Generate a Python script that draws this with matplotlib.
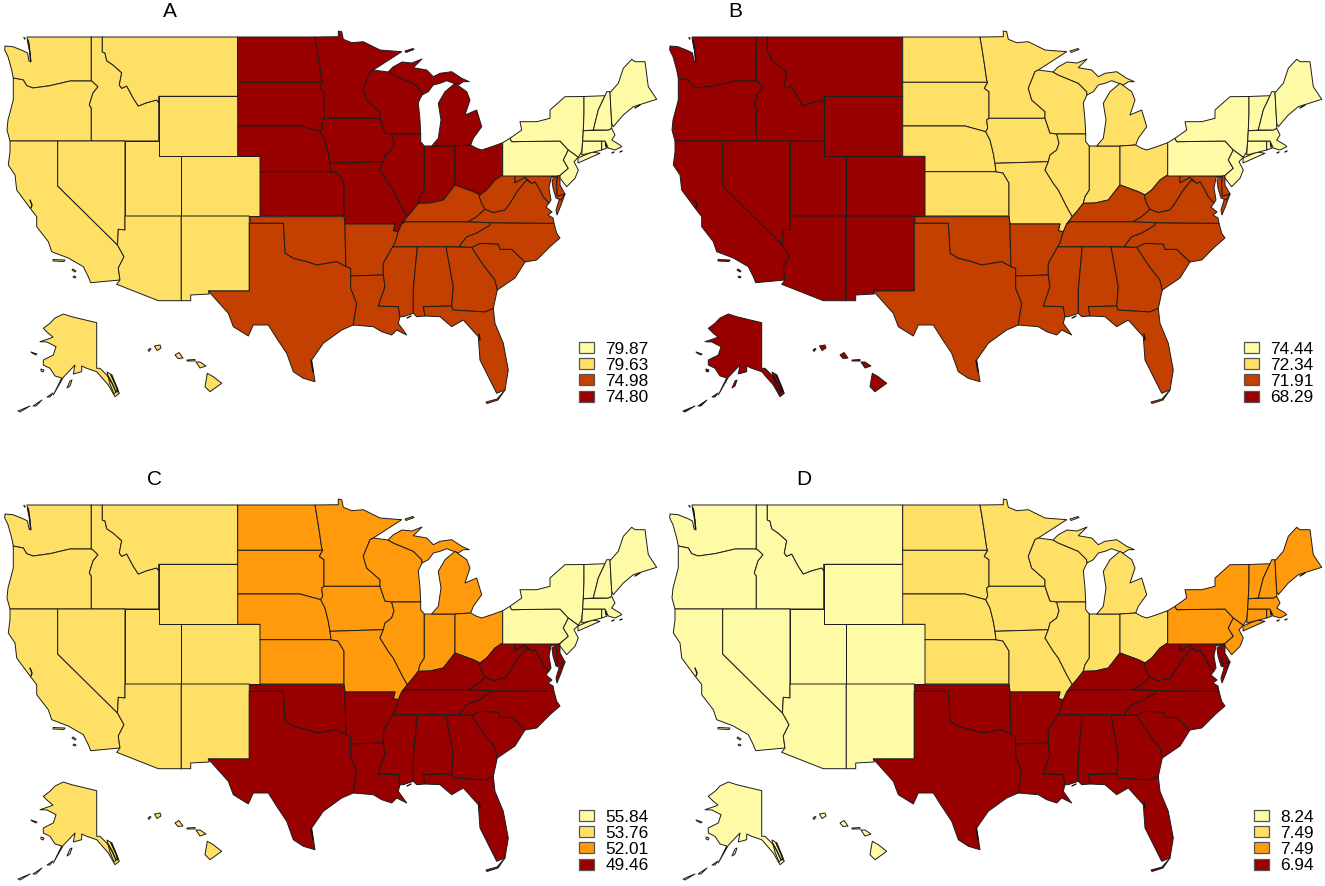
import matplotlib
matplotlib.use("Agg")
import matplotlib.pyplot as plt
from matplotlib.patches import Polygon, Patch

plt.rcParams['font.family'] = ['Liberation Sans', 'DejaVu Sans']

# ---- data: values and palettes ----
PANELS = ["A", "B", "C", "D"]
REGIONS = ["Northeast", "Midwest", "South", "West"]
A_VALUES = {"Northeast": 79.87, "West": 79.63, "South": 74.98, "Midwest": 74.80}
B_VALUES = {"Northeast": 74.44, "Midwest": 72.34, "South": 71.91, "West": 68.29}
C_VALUES = {"Northeast": 55.84, "West": 53.76, "Midwest": 52.01, "South": 49.46}
D_VALUES = {"West": 8.24, "Midwest": 7.49, "Northeast": 7.49, "South": 6.94}
VALUES = [A_VALUES, B_VALUES, C_VALUES, D_VALUES]
LIGHT, YELLOW, RUST, ORANGE, DARK = "#FFFAA6", "#FFE066", "#C44000", "#FF9A0C", "#990000"
PALETTES = [[LIGHT, YELLOW, RUST, DARK], [LIGHT, YELLOW, RUST, DARK],
            [LIGHT, YELLOW, ORANGE, DARK], [LIGHT, YELLOW, ORANGE, DARK]]

WEST = ["WA", "OR", "CA", "ID", "MT", "WY", "NV", "UT", "CO", "AZ", "NM", "AK", "HI"]
MIDWEST = ["ND", "SD", "NE", "KS", "MN", "IA", "MO", "WI", "IL", "IN", "MI", "OH"]
SOUTH = ["OK", "TX", "AR", "LA", "MS", "AL", "GA", "FL", "SC", "NC", "TN", "KY", "WV", "VA", "MD", "DE"]
NORTHEAST = ["PA", "NY", "NJ", "CT", "RI", "MA", "VT", "NH", "ME"]
MEMBERS = {"West": WEST, "Midwest": MIDWEST, "South": SOUTH, "Northeast": NORTHEAST}

# ---- state outlines (map units) ----
SHAPES = {
 "WA": [[(27,37),(91.3,37),(91.3,81),(70,81),(50,85.7),(33,88),(26.7,85.7),(23.3,80),(13.3,78),(11.7,70),(8,56.7),(4.7,50),(5,46),(13,46.7),(23,50.7),(27.5,53),(29,61),(31,62),(30,52),(28,44)]],
 "OR": [[(13.3,78),(23.3,80),(26.7,85.7),(33,88),(50,85.7),(70,81),(91.3,81),(92.7,81.7),(98,86.7),(93,93),(89.3,105),(91.3,108),(91.3,141),(10,141),(7,130),(8,120),(13.3,100)]],
 "ID": [[(91.3,37),(102.3,37),(102.3,52),(105,53),(106.7,60.7),(113,65),(121.7,72.7),(119.3,85),(121.7,88.3),(126.7,86),(133.3,98.3),(138.3,106),(146.7,102.7),(156.7,100),(158.7,102.7),(158.7,141),(91.3,141),(91.3,108),(89.3,105),(93,93),(98,86.7),(92.7,81.7),(91.3,81)]],
 "MT": [[(102.3,37),(237.7,37),(237.7,96.3),(158.7,96.3),(158.7,102.7),(156.7,100),(146.7,102.7),(138.3,106),(133.3,98.3),(126.7,86),(121.7,88.3),(119.3,85),(121.7,72.7),(113,65),(106.7,60.7),(105,53),(102.3,52)]],
 "WY": [[(158.7,96.3),(237.7,96.3),(237.7,156.3),(158.7,156.3)]],
 "UT": [[(125,141),(158.7,141),(158.7,156.3),(181.3,156.3),(181.3,216),(125,216)]],
 "CO": [[(181.3,156.3),(260,156.3),(260,216),(181.3,216)]],
 "NV": [[(57.7,141),(125,141),(125,230),(118.3,229.3),(117.5,245),(57.7,186)]],
 "CA": [[(10,141),(57.7,141),(57.7,186),(117.5,245),(124,256.7),(118.3,268),(120,280),(90.7,282.7),(88.3,276.7),(83.3,266.7),(68.3,258),(51.7,251.7),(48.3,241.7),(36.7,226.7),(36.7,216.7),(30,208),(16.7,190),(15,175),(8.3,165),(10,151.7)],
        [(53,259.5),(65,260),(64,261.5),(53,261)], [(73,269),(76,271),(75,272),(72,270)], [(74,276),(76,277),(75,278),(73,277)]],
 "AZ": [[(125,216),(181.3,216),(181.3,300.7),(158.3,300.7),(116.7,284.3),(120,280),(118.3,268),(124,256.7),(117.5,245),(118.3,229.3),(125,230)]],
 "NM": [[(181.3,216),(249.3,216),(249.3,291),(208.3,291),(209.3,294),(190.7,295),(190.7,300.7),(181.3,300.7)]],
 "AK": [[(63.3,314),(71.7,316.7),(96.7,322.7),(96.7,368.3),(100,368.3),(106.7,375),(115,383.3),(119.3,393.3),(115,396.7),(108.3,385),(96.7,371.7),(86.7,368.3),(81.7,366),(81.7,371.7),(73.3,374),(75,365),(63.3,377.3),(53.3,395),(61.7,378),(55,376),(50,368.3),(43.3,365),(43.3,360),(53.3,355),(56,346.7),(47,342),(40,341.7),(50,338.3),(53,337),(48,333),(43.3,328.3),(50,323.3),(55,318)],
        [(53,393),(47,397),(50,397)], [(42,400),(33,406),(36,406)], [(30,406),(18,411),(20,412)], [(31,352),(37,354),(36,355),(32,353)], [(41,369),(44,370),(43,372),(41,371)],
        [(72,380),(70,386),(67,388),(70,381)], [(107,372),(112,375),(118,390),(114,394),(110,384)]],
 "HI": [[(154.5,346),(160,345),(161,348),(157,350.5)], [(175,355),(179,352.5),(183,358),(178,358.5)], [(196,362),(200,362),(206,366),(200,368)], [(187,360),(195,359.5),(195,361),(187,361)],
        [(207.3,373.3),(213.3,376.7),(221.7,383.3),(210,391.7),(205,386.7)], [(148,350),(150,348.5),(151,349),(149,351.5)]],
 "ND": [[(237.7,37),(315,37),(316.7,46.7),(319.3,63.3),(321.7,80),(322.7,82.3),(237.7,82.3)]],
 "SD": [[(237.7,82.3),(322.7,82.3),(319.3,88.3),(324,91.7),(324,118.3),(321.7,120),(322.7,128.3),(320.7,131.7),(308.3,128.3),(300,126),(237.7,126)]],
 "NE": [[(237.7,126),(300,126),(308.3,128.3),(320.7,131.7),(325,140),(328.3,153.3),(330,163.3),(331,171.7),(260,171.7),(260,156.3),(237.7,156.3)]],
 "KS": [[(260,171.7),(331,171.7),(338,173),(344,183),(344,216),(260,216)]],
 "MN": [[(315,37),(338.3,36.7),(338.3,31),(341.7,31.7),(343.3,39.3),(351.7,42.7),(363.3,41.7),(380,50),(401.7,51.7),(373.3,70),(370,71.7),(363.3,88.3),(366.7,100),(380,111.7),(380,118.3),(324,118.3),(324,91.7),(319.3,88.3),(322.7,82.3),(321.7,80),(319.3,63.3),(316.7,46.7)]],
 "IA": [[(324,118.3),(380,118.3),(383.3,128.3),(385,133),(391.7,134),(394,143),(391.7,150),(385,155),(383.3,161.7),(330,163.3),(328.3,153.3),(325,140),(320.7,131.7),(322.7,128.3),(321.7,120)]],
 "MO": [[(330,163.3),(383.3,161.7),(380,170),(388.3,183.3),(393.3,190),(401.7,206.7),(407.3,216.7),(401.7,224),(398.3,231.7),(393.3,230.7),(395,224),(345,224),(344,216),(344,183),(338,173),(331,171.7)]],
 "WI": [[(380,118.3),(385,133),(391.7,134),(420.7,134),(420,120),(418.3,102.7),(422,95),(421.7,91.7),(413.3,83.3),(393.3,75),(388,72),(373.3,70),(370,71.7),(363.3,88.3),(366.7,100),(380,111.7)]],
 "IL": [[(391.7,134),(420.7,134),(420.7,141.7),(424.3,146),(424.3,190),(420,196.7),(418.3,203.3),(411.7,211.7),(407.3,216.7),(401.7,206.7),(393.3,190),(388.3,183.3),(380,170),(383.3,161.7),(385,155),(391.7,150),(394,143)]],
 "IN": [[(424.3,146),(431.7,146),(455,146),(455,185),(443.3,200),(430,203),(418.3,203.3),(420,196.7),(424.3,190)]],
 "OH": [[(455,146),(470.7,145),(476.7,148.3),(481.7,150),(491.7,146.7),(502.7,142.7),(502.7,175),(500,176.7),(495,180),(486.7,190),(480,195),(473.3,191.7),(455,185)]],
 "MI": [[(421.7,91.7),(413.3,83.3),(393.3,75),(388,72),(393,67),(402,62),(412,63),(422,59),(413.3,67.7),(426.7,70),(433.3,76.7),(440,73.3),(451.7,71.7),(461.7,78.3),(469.3,81.7),(463.3,81.7),(458.3,85),(446.7,80.7),(440,83.3),(433.3,85),(428.3,91.7),(422,95)],
        [(445,91.7),(455,83.3),(466.7,91.7),(470,100),(465,115),(476.7,110),(481.7,126.7),(473.3,138.3),(470.7,145),(455,146),(431.7,146),(438.3,138.3),(441,120),(438.3,103.3)],
        [(405,51),(413,48.5),(414,49.5),(406,52.5)]],
 "OK": [[(250,216.7),(344,216.7),(345,224),(345.3,243.3),(346,266.7),(336.7,261.7),(316.7,265),(306.7,261.7),(293.3,258.3),(285,253.3),(283.3,223.3),(250,223.3)]],
 "TX": [[(249.3,223.3),(283.3,223.3),(285,253.3),(293.3,258.3),(306.7,261.7),(316.7,265),(336.7,261.7),(346,266.7),(350.7,268.3),(350.7,288.3),(356.7,303.3),(353.3,325),(341.7,330),(323.3,343.3),(311.7,360),(315,381.7),(303.3,378.3),(293.3,371.7),(286.7,353.3),(276.7,338.3),(268.3,325),(253.3,325),(248.3,336),(233.3,326.7),(228.3,313.3),(208.3,291),(249.3,291)]],
 "AR": [[(345,224),(395,224),(393.3,230.7),(398.3,231.7),(395,243),(390,251.7),(383.3,263.3),(383.3,275),(350.7,276),(350.7,268.3),(346,266.7),(345.3,243.3)]],
 "LA": [[(350.7,276),(383.3,275),(385,286.7),(378.3,306),(398.3,306.7),(400,316.7),(398.3,323.3),(406.7,335),(396.7,330),(391.7,335),(381.7,331.7),(373.3,326.7),(353.3,325),(356.7,303.3),(350.7,288.3)]],
 "MS": [[(392.7,246.7),(417.3,246.7),(413.3,290),(413.3,313.3),(403.3,316.7),(400,316.7),(398.3,306.7),(378.3,306),(385,286.7),(383.3,275),(383.3,263.3),(390,251.7)]],
 "AL": [[(417.3,246.7),(446,246.7),(453.3,286.7),(451.7,306),(423.3,306.7),(425,316),(416.7,316.7),(413.3,313.3),(413.3,290)]],
 "GA": [[(446,246.7),(471.7,247.3),(483.3,265),(495,280),(497.3,290),(493.3,308.3),(485,312),(452.7,310),(451.7,306),(453.3,286.7)]],
 "FL": [[(423.3,306.7),(451.7,306),(452.7,310),(485,312),(493.3,308.3),(495,323.3),(503.3,343.3),(508.3,370),(505,390),(496.7,393.3),(490,380),(480,360),(478.3,336.7),(463.3,320),(451.7,326.7),(440,316.7),(425,316)],
        [(486,402),(497,399),(505,390),(498,400),(487,403.5)]],
 "SC": [[(471.7,247.3),(480,243.3),(498.3,244),(500,249.3),(511.7,249.3),(525,262),(515,278),(497.3,290),(495,280),(483.3,265)]],
 "NC": [[(490,222.7),(554,223.3),(556.7,233.3),(560,238),(550,246.7),(536.7,260),(525,262),(511.7,249.3),(500,249.3),(498.3,244),(480,243.3),(471.7,247.3),(460,246.7),(460,245),(466.7,236.7),(476.7,233),(490,225)]],
 "TN": [[(405,221.7),(468.3,221.7),(490,222.7),(490,225),(476.7,233),(466.7,236.7),(460,245),(460,246.7),(392.7,246.7),(395,243),(398.3,231.7),(401.7,224)]],
 "KY": [[(407.3,216.7),(411.7,211.7),(418.3,203.3),(430,203),(443.3,200),(455,185),(473.3,191.7),(480,195),(479.3,196.7),(481.7,203.3),(485,209.3),(476.7,216.7),(468.3,221.7),(405,221.7),(401.7,224)]],
 "WV": [[(480,195),(486.7,190),(495,180),(500,176.7),(502.7,175),(515,175.5),(515,182.7),(525,177.3),(531.7,183.3),(526.7,180),(518.3,190),(510,203.3),(505,210),(493.3,212.7),(485,209.3),(481.7,203.3),(479.3,196.7)]],
 "VA": [[(468.3,221.7),(476.7,216.7),(485,209.3),(493.3,212.7),(505,210),(510,203.3),(518.3,190),(526.7,180),(531.7,183.3),(535,181.7),(540,190),(543.3,196.7),(549,203),(546,207),(552,212),(548,215),(553,218),(554,223.3),(490,222.7)],
        [(565,194),(561,205),(557,215),(556,210),(560,197)]],
 "MD": [[(515,175.5),(556.7,176),(551,178),(549,188),(551,200),(549,203),(543.3,196.7),(540,190),(535,181.7),(531.7,183.3),(525,177.3),(515,182.7)],
        [(556.7,176),(556.7,183.3),(557.3,196),(565,194),(561,200),(556,198),(553,188),(552,180)]],
 "DE": [[(558,174),(556.7,183.3),(557.3,196),(565,194),(560,185),(560,175.5)]],
 "PA": [[(502.7,142.7),(510,138.3),(511.7,141.7),(560,141),(568.3,150),(563.3,160),(568.3,168.3),(560,175.5),(556.7,176),(502.7,176)]],
 "NY": [[(510,138.3),(521.7,130),(520,121.7),(536.7,121.7),(550,118.3),(550,110),(565,96.7),(584,96.5),(584,113.3),(583.3,130.7),(582.7,141),(581.7,151.7),(578.3,157.3),(568.3,150),(560,141),(511.7,141.7)],
        [(578,163),(600,153.3),(592,152),(578,158)]],
 "NJ": [[(568.3,150),(578.3,157.3),(574,161.7),(578.3,170),(575,178.3),(566.7,186.7),(560,178),(560,175.5),(568.3,168.3),(563.3,160)]],
 "CT": [[(582.7,141),(601.7,141),(601.7,150),(581.7,155)]],
 "RI": [[(601.7,141),(605,141),(607.3,148),(601.7,150)]],
 "MA": [[(583.3,130.7),(608.3,130),(611.7,128.3),(615,135),(611.7,140),(620,145),(621.7,146.7),(615,150),(608.3,148),(605,141),(582.7,141)]],
 "VT": [[(584,96.5),(605,95.7),(598.3,110),(593.3,130),(583.3,130.7),(584,113.3)]],
 "NH": [[(605,95.7),(606.7,91.7),(610,91.7),(611.7,123.3),(611.7,128.3),(608.3,130),(593.3,130),(598.3,110)]],
 "ME": [[(610,92.7),(618.3,83.3),(623.3,68.3),(631.7,59.3),(635,61.7),(645,61.7),(648.3,86.7),(656.7,99.3),(633.3,106.7),(623.3,115),(613.3,126.7),(611.7,123.3)]],
}

# fine coastal scribbles that print as near-black in every panel
SCRIBBLES = [
    [(28,40),(29,44),(29.5,50),(30,55),(30.5,61)], [(24,37.5),(25,39)],
    [(30,200),(32,205),(31,208)],
    [(108,376),(112,383),(116,392)], [(111,375),(116,386),(118,392)],
    [(605.5,143),(606,147)], [(635,108),(640,105)], [(612,153),(614,152)], [(620,152),(622,151)],
    [(479,334),(480,340)], [(311,360),(313,372)], [(407,318),(411,316)],
]

# ---- layout ----
FIG_W, FIG_H = 1325, 886
PANEL_W, PANEL_H = 665, 468
TITLE_X = [170, 70, 155, 139]
EDGE = "#1c1c1c"

fig = plt.figure(figsize=(FIG_W / 100, FIG_H / 100), dpi=100, facecolor="white")

for i, name in enumerate(PANELS):
    col, row = i % 2, i // 2
    ax = fig.add_axes([col * PANEL_W / FIG_W, 1 - (row * PANEL_H + PANEL_H) / FIG_H,
                       PANEL_W / FIG_W, PANEL_H / FIG_H])
    ax.set_xlim(0, PANEL_W)
    ax.set_ylim(PANEL_H, 0)
    ax.axis("off")
    vals = VALUES[i]
    ordered = sorted(vals, key=lambda r: -vals[r])
    colours = {r: PALETTES[i][k] for k, r in enumerate(ordered)}
    for region, members in MEMBERS.items():
        for st in members:
            for poly in SHAPES[st]:
                ax.add_patch(Polygon(poly, closed=True, facecolor=colours[region],
                                     edgecolor=EDGE, linewidth=0.7, joinstyle="round"))
    for line in SCRIBBLES:
        ax.plot(*zip(*line), color="#111111", lw=1.0, solid_capstyle="round")
    ax.text(TITLE_X[i], 11.5, name, fontsize=15, ha="center", va="center", color="black")
    handles = [Patch(facecolor=colours[r], edgecolor="#555555", linewidth=0.9) for r in ordered]
    labels = [f"{vals[r]:.2f}" for r in ordered]
    ax.legend(handles, labels, loc="upper right", bbox_to_anchor=(648.5, 341.5),
              bbox_transform=ax.transData, frameon=False, fontsize=12.4,
              handlelength=0.88, handleheight=0.6, handletextpad=0.63,
              labelspacing=0.07, borderpad=0, borderaxespad=0)

fig.savefig("out.png", dpi=100)
